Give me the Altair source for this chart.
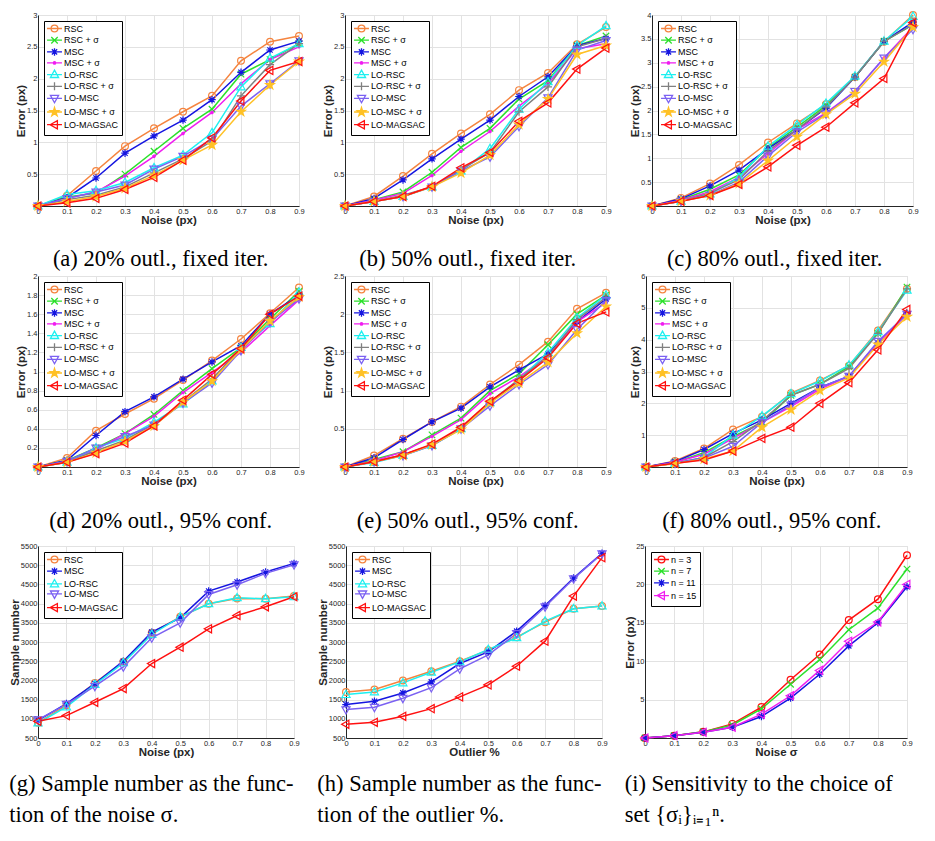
import altair as alt
import pandas as pd

# ---------------- data ----------------
NOISE = [0, 0.1, 0.2, 0.3, 0.4, 0.5, 0.6, 0.7, 0.8, 0.9]

SERIES9 = ["RSC", "RSC + σ", "MSC", "MSC + σ", "LO-RSC", "LO-RSC + σ",
           "LO-MSC", "LO-MSC + σ", "LO-MAGSAC"]
SERIES5 = ["RSC", "MSC", "LO-RSC", "LO-MSC", "LO-MAGSAC"]
SERIES_N = ["n = 3", "n = 7", "n = 11", "n = 15"]

panel_a = {
    "RSC":        [0, 0.16, 0.55, 0.94, 1.22, 1.48, 1.73, 2.28, 2.58, 2.67],
    "RSC + σ":    [0, 0.14, 0.20, 0.50, 0.86, 1.22, 1.52, 2.07, 2.30, 2.55],
    "MSC":        [0, 0.13, 0.44, 0.83, 1.10, 1.35, 1.67, 2.10, 2.45, 2.59],
    "MSC + σ":    [0, 0.12, 0.22, 0.47, 0.78, 1.14, 1.47, 1.92, 2.30, 2.50],
    "LO-RSC":     [0, 0.18, 0.24, 0.37, 0.60, 0.80, 1.15, 1.87, 2.32, 2.55],
    "LO-RSC + σ": [0, 0.10, 0.17, 0.30, 0.52, 0.74, 1.02, 1.73, 2.22, 2.55],
    "LO-MSC":     [0, 0.12, 0.22, 0.33, 0.58, 0.78, 1.05, 1.57, 1.92, 2.28],
    "LO-MSC + σ": [0, 0.07, 0.15, 0.28, 0.48, 0.72, 0.96, 1.48, 1.90, 2.27],
    "LO-MAGSAC":  [0, 0.05, 0.12, 0.26, 0.45, 0.72, 1.07, 1.65, 2.13, 2.27],
}
panel_b = {
    "RSC":        [0, 0.15, 0.47, 0.82, 1.14, 1.44, 1.82, 2.09, 2.54, 2.81],
    "RSC + σ":    [0, 0.10, 0.22, 0.53, 0.92, 1.22, 1.68, 1.97, 2.52, 2.67],
    "MSC":        [0, 0.12, 0.41, 0.74, 1.05, 1.35, 1.72, 2.03, 2.52, 2.63],
    "MSC + σ":    [0, 0.09, 0.20, 0.48, 0.86, 1.17, 1.57, 1.92, 2.47, 2.55],
    "LO-RSC":     [0, 0.07, 0.15, 0.30, 0.55, 0.90, 1.52, 1.95, 2.52, 2.83],
    "LO-RSC + σ": [0, 0.07, 0.17, 0.30, 0.57, 0.84, 1.48, 1.87, 2.50, 2.63],
    "LO-MSC":     [0, 0.07, 0.15, 0.30, 0.55, 0.77, 1.25, 1.70, 2.45, 2.60],
    "LO-MSC + σ": [0, 0.07, 0.15, 0.30, 0.52, 0.80, 1.28, 1.68, 2.38, 2.52],
    "LO-MAGSAC":  [0, 0.07, 0.15, 0.31, 0.60, 0.84, 1.33, 1.62, 2.15, 2.48],
}
panel_c = {
    "RSC":        [0, 0.17, 0.47, 0.86, 1.33, 1.73, 2.13, 2.70, 3.44, 4.00],
    "RSC + σ":    [0, 0.13, 0.35, 0.65, 1.22, 1.65, 2.10, 2.70, 3.45, 3.80],
    "MSC":        [0, 0.15, 0.42, 0.75, 1.20, 1.60, 2.05, 2.70, 3.45, 3.85],
    "MSC + σ":    [0, 0.12, 0.30, 0.60, 1.10, 1.60, 1.95, 2.40, 3.10, 3.75],
    "LO-RSC":     [0, 0.10, 0.25, 0.60, 1.25, 1.70, 2.15, 2.72, 3.45, 3.97],
    "LO-RSC + σ": [0, 0.10, 0.27, 0.55, 1.15, 1.60, 2.07, 2.70, 3.45, 3.80],
    "LO-MSC":     [0, 0.10, 0.23, 0.50, 1.05, 1.55, 1.93, 2.40, 3.10, 3.70],
    "LO-MSC + σ": [0, 0.10, 0.22, 0.47, 0.95, 1.45, 1.92, 2.35, 3.02, 3.75],
    "LO-MAGSAC":  [0, 0.10, 0.22, 0.45, 0.82, 1.27, 1.65, 2.16, 2.67, 3.84],
}
panel_d = {
    "RSC":        [0, 0.095, 0.38, 0.555, 0.715, 0.91, 1.115, 1.34, 1.61, 1.88],
    "RSC + σ":    [0, 0.07, 0.20, 0.35, 0.55, 0.80, 1.03, 1.25, 1.55, 1.84],
    "MSC":        [0, 0.07, 0.33, 0.58, 0.735, 0.92, 1.10, 1.27, 1.60, 1.80],
    "MSC + σ":    [0, 0.06, 0.18, 0.35, 0.53, 0.78, 0.99, 1.20, 1.48, 1.75],
    "LO-RSC":     [0, 0.05, 0.20, 0.30, 0.47, 0.66, 0.90, 1.25, 1.50, 1.83],
    "LO-RSC + σ": [0, 0.05, 0.17, 0.28, 0.45, 0.68, 0.92, 1.24, 1.52, 1.78],
    "LO-MSC":     [0, 0.06, 0.20, 0.32, 0.44, 0.67, 0.88, 1.22, 1.52, 1.76],
    "LO-MSC + σ": [0, 0.05, 0.15, 0.27, 0.43, 0.68, 0.90, 1.23, 1.53, 1.78],
    "LO-MAGSAC":  [0, 0.05, 0.14, 0.25, 0.43, 0.70, 0.97, 1.24, 1.60, 1.79],
}
panel_e = {
    "RSC":        [0, 0.15, 0.37, 0.59, 0.79, 1.08, 1.34, 1.64, 2.07, 2.28],
    "RSC + σ":    [0, 0.10, 0.20, 0.42, 0.64, 1.00, 1.22, 1.60, 2.00, 2.25],
    "MSC":        [0, 0.12, 0.36, 0.59, 0.77, 1.05, 1.27, 1.48, 1.90, 2.20],
    "MSC + σ":    [0, 0.08, 0.20, 0.40, 0.62, 0.96, 1.18, 1.45, 1.90, 2.15],
    "LO-RSC":     [0, 0.06, 0.15, 0.28, 0.50, 0.84, 1.14, 1.50, 1.95, 2.25],
    "LO-RSC + σ": [0, 0.07, 0.16, 0.29, 0.51, 0.85, 1.15, 1.45, 1.93, 2.22],
    "LO-MSC":     [0, 0.07, 0.15, 0.28, 0.50, 0.80, 1.08, 1.34, 1.80, 2.18],
    "LO-MSC + σ": [0, 0.07, 0.15, 0.29, 0.49, 0.84, 1.10, 1.37, 1.75, 2.10],
    "LO-MAGSAC":  [0, 0.07, 0.16, 0.30, 0.52, 0.86, 1.13, 1.43, 1.88, 2.03],
}
panel_f = {
    "RSC":        [0, 0.19, 0.58, 1.18, 1.58, 2.32, 2.72, 3.18, 4.29, 5.60],
    "RSC + σ":    [0, 0.15, 0.45, 0.95, 1.40, 2.25, 2.60, 3.15, 4.20, 5.65],
    "MSC":        [0, 0.17, 0.55, 1.05, 1.48, 2.00, 2.50, 2.85, 3.90, 4.82],
    "MSC + σ":    [0, 0.15, 0.40, 0.90, 1.40, 1.90, 2.45, 2.85, 3.90, 4.80],
    "LO-RSC":     [0, 0.12, 0.30, 1.00, 1.60, 2.30, 2.70, 3.20, 4.25, 5.55],
    "LO-RSC + σ": [0, 0.12, 0.30, 0.80, 1.45, 2.25, 2.60, 3.10, 4.20, 5.60],
    "LO-MSC":     [0, 0.12, 0.28, 0.65, 1.40, 1.95, 2.50, 2.85, 3.95, 4.80],
    "LO-MSC + σ": [0, 0.10, 0.25, 0.50, 1.25, 1.80, 2.40, 2.80, 3.85, 4.72],
    "LO-MAGSAC":  [0, 0.12, 0.22, 0.50, 0.90, 1.25, 2.00, 2.65, 3.68, 4.95],
}
panel_g = {
    "RSC":       [900, 1352, 1935, 2483, 3239, 3656, 3996, 4135, 4126, 4196],
    "MSC":       [960, 1396, 1917, 2500, 3256, 3630, 4326, 4561, 4822, 5048],
    "LO-RSC":    [890, 1309, 1891, 2456, 3196, 3656, 3996, 4150, 4126, 4178],
    "LO-MSC":    [978, 1378, 1848, 2352, 3109, 3500, 4239, 4491, 4787, 5013],
    "LO-MAGSAC": [935, 1083, 1430, 1787, 2439, 2865, 3343, 3691, 3917, 4178],
}
panel_h = {
    "RSC":       [1700, 1761, 1996, 2239, 2500, 2787, 3126, 3517, 3865, 3935],
    "MSC":       [1370, 1457, 1674, 1961, 2439, 2743, 3283, 3952, 4665, 5309],
    "LO-RSC":    [1630, 1700, 1935, 2213, 2483, 2804, 3109, 3543, 3865, 3935],
    "LO-MSC":    [1239, 1300, 1535, 1813, 2300, 2665, 3222, 3917, 4648, 5300],
    "LO-MAGSAC": [857, 909, 1065, 1265, 1570, 1883, 2370, 3022, 4196, 5196],
}
panel_i = {
    "n = 3":  [0, 0.30, 0.80, 1.84, 4.03, 7.59, 10.88, 15.35, 18.07, 23.80],
    "n = 7":  [0, 0.30, 0.80, 1.70, 3.80, 7.00, 10.20, 14.10, 16.90, 22.00],
    "n = 11": [0, 0.30, 0.75, 1.40, 2.80, 5.20, 8.30, 12.00, 15.00, 19.70],
    "n = 15": [0, 0.30, 0.75, 1.40, 3.10, 5.50, 8.80, 12.60, 15.10, 20.00],
}

YT_3 = [0, 0.5, 1, 1.5, 2, 2.5, 3]
YT_4 = [0, 0.5, 1, 1.5, 2, 2.5, 3, 3.5, 4]
YT_2 = [0, 0.2, 0.4, 0.6, 0.8, 1, 1.2, 1.4, 1.6, 1.8, 2]
YT_25 = [0, 0.5, 1, 1.5, 2, 2.5]
YT_6 = [0, 1, 2, 3, 4, 5, 6]
YT_S = [500, 1000, 1500, 2000, 2500, 3000, 3500, 4000, 4500, 5000, 5500]
YT_I = [0, 5, 10, 15, 20, 25]

# ---------------- style ----------------
COLOR = {
    "RSC": "#F5843F", "RSC + σ": "#2CE02C", "MSC": "#1515E0", "MSC + σ": "#F01DF0",
    "LO-RSC": "#1DF0F0", "LO-RSC + σ": "#808080", "LO-MSC": "#7B61F2",
    "LO-MSC + σ": "#FFC125", "LO-MAGSAC": "#FF1010",
    "n = 3": "#FF1010", "n = 7": "#2CE02C", "n = 11": "#1515E0", "n = 15": "#F01DF0",
}
MARKER = {
    "RSC": "circle", "RSC + σ": "x", "MSC": "asterisk", "MSC + σ": "dot",
    "LO-RSC": "tri_up", "LO-RSC + σ": "plus", "LO-MSC": "tri_down",
    "LO-MSC + σ": "star", "LO-MAGSAC": "tri_left",
    "n = 3": "circle", "n = 7": "x", "n = 11": "asterisk", "n = 15": "tri_left",
}
PATH = {
    "circle": "M1,0A1,1 0 1,1 -1,0A1,1 0 1,1 1,0Z",
    "x": "M-0.95,-0.95L0.95,0.95M-0.95,0.95L0.95,-0.95",
    "asterisk": "M-1.1,0L1.1,0M0,-1.1L0,1.1M-0.78,-0.78L0.78,0.78M-0.78,0.78L0.78,-0.78",
    "dot": "M0.35,0A0.35,0.35 0 1,1 -0.35,0A0.35,0.35 0 1,1 0.35,0Z",
    "tri_up": "M0,-1.3L1.2,0.85L-1.2,0.85Z",
    "plus": "M-1.2,0L1.2,0M0,-1.2L0,1.2",
    "tri_down": "M0,1.3L1.2,-0.85L-1.2,-0.85Z",
    "star": ("M0,-1.35L0.3,-0.42L1.28,-0.42L0.49,0.16L0.79,1.09L0,0.52"
             "L-0.79,1.09L-0.49,0.16L-1.28,-0.42L-0.3,-0.42Z"),
    "tri_left": "M-1.3,0L0.85,-1.2L0.85,1.2Z",
}
LINE_SEG = "M-2.2,0L2.2,0"


def fill_for(name):
    m = MARKER[name]
    if m in ("star", "dot"):
        return COLOR[name]
    return "transparent"


def make_df(names, values):
    rows = []
    for n in names:
        for x, v in zip(NOISE, values[n]):
            rows.append({"x": x, "y": v, "s": n})
    return pd.DataFrame(rows)


def panel(names, values, ydom, yticks, ytitle, xtitle, caption, cap_offset,
          cap_anchor="middle", width=261, height=191):
    df = make_df(names, values)
    base = alt.Chart(df)
    xenc = alt.X("x:Q", scale=alt.Scale(domain=[0, 0.9], nice=False, zero=False),
                 axis=alt.Axis(values=NOISE, format="~r", title=xtitle, labelFlush=False,
                               labelOverlap=False))
    yenc = alt.Y("y:Q", scale=alt.Scale(domain=ydom, nice=False, zero=False),
                 axis=alt.Axis(values=yticks, format="~r", title=ytitle, labelFlush=False,
                               labelOverlap=False))
    colors = [COLOR[n] for n in names]
    fills = [fill_for(n) for n in names]
    cscale = alt.Scale(domain=names, range=colors)
    fscale = alt.Scale(domain=names, range=fills)

    line = base.mark_line(strokeWidth=1.5).encode(
        x=xenc, y=yenc, color=alt.Color("s:N", scale=cscale, legend=None))
    pts = base.mark_point(filled=False, size=46, strokeWidth=1.2, opacity=1).encode(
        x=xenc, y=yenc,
        color=alt.Color("s:N", scale=cscale, legend=None),
        shape=alt.Shape("s:N", scale=alt.Scale(domain=names,
                        range=[PATH[MARKER[n]] for n in names]), legend=None),
        fill=alt.Fill("s:N", scale=fscale, legend=None))
    leg = alt.Legend(title=None, orient="top-left", offset=6, symbolSize=46,
                     symbolStrokeWidth=1.3, symbolOpacity=1, symbolOffset=3,
                     labelOffset=5, labelFont="Liberation Sans", labelFontSize=9,
                     labelColor="black", rowPadding=-1.3, padding=3,
                     strokeColor="black", fillColor="white", cornerRadius=0)
    # legend-only layer: no rows pass the filter, the legend comes from the scales
    legl = base.mark_point(filled=False, size=46).encode(
        x=xenc, y=yenc,
        color=alt.Color("s:N", scale=cscale, legend=leg),
        shape=alt.Shape("s:N", scale=alt.Scale(domain=names,
                        range=[LINE_SEG + PATH[MARKER[n]] for n in names]), legend=leg),
        fill=alt.Fill("s:N", scale=fscale, legend=leg)
    ).transform_filter("datum.x < -1")
    return alt.layer(line, pts, legl).resolve_scale(
        color="independent", shape="independent", fill="independent"
    ).properties(
        width=width, height=height,
        title=alt.TitleParams(text=caption, orient="bottom", anchor=cap_anchor,
                              frame="bounds", font="Liberation Serif", fontSize=22.5,
                              fontWeight="normal", color="black", offset=cap_offset,
                              lineHeight=31),
    )


pa = panel(SERIES9, panel_a, [0, 3], YT_3, "Error (px)", "Noise (px)",
           "(a) 20% outl., fixed iter.", 22)
pb = panel(SERIES9, panel_b, [0, 3], YT_3, "Error (px)", "Noise (px)",
           "(b) 50% outl., fixed iter.", 22)
pc = panel(SERIES9, panel_c, [0, 4], YT_4, "Error (px)", "Noise (px)",
           "(c) 80% outl., fixed iter.", 22)
pd_ = panel(SERIES9, panel_d, [0, 2], YT_2, "Error (px)", "Noise (px)",
            "(d) 20% outl., 95% conf.", 23)
pe = panel(SERIES9, panel_e, [0, 2.5], YT_25, "Error (px)", "Noise (px)",
           "(e) 50% outl., 95% conf.", 23)
pf = panel(SERIES9, panel_f, [0, 6], YT_6, "Error (px)", "Noise (px)",
           "(f) 80% outl., 95% conf.", 23)
pg = panel(SERIES5, panel_g, [500, 5500], YT_S, "Sample number", "Noise (px)",
           ["(g) Sample number as the func-", "tion of the noise σ."], 15, "start",
           width=256, height=192)
ph = panel(SERIES5, panel_h, [500, 5500], YT_S, "Sample number", "Outlier %",
           ["(h) Sample number as the func-", "tion of the outlier %."], 15, "start",
           width=256, height=192)
pi = panel(SERIES_N, panel_i, [0, 25], YT_I, "Error (px)", "Noise σ",
           ["(i) Sensitivity to the choice of", "set {σᵢ}ᵢ₌₁ⁿ."], 15, "start",
           width=262, height=192)

row1 = alt.hconcat(pa, pb, pc, spacing=15)
row2 = alt.hconcat(pd_, pe, pf, spacing=15)
row3 = alt.hconcat(pg, ph, pi, spacing=15)

chart = alt.vconcat(alt.vconcat(row1, row2, spacing=0), row3, spacing=8).properties(
    padding=0, background="white"
).configure_view(
    stroke="#D4D4D4", strokeWidth=1
).configure_axis(
    labelFont="Liberation Sans", labelFontSize=7.5, labelColor="#262626",
    titleFont="Liberation Sans", titleFontSize=11.5, titleFontWeight="bold",
    titleColor="#262626", domainColor="#262626", ticks=False,
    labelPadding=1, titlePadding=0, gridColor="#E2E2E2", grid=True,
)

chart.save("out.html", embed_options={"renderer": "svg", "actions": False})
